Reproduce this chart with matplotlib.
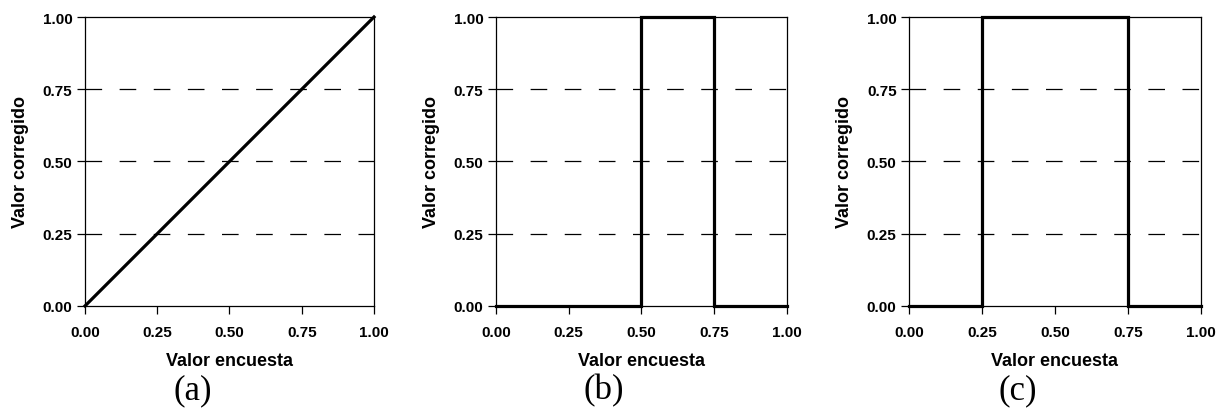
import numpy as np
import matplotlib.pyplot as plt

# survey value -> corrected value, one curve per panel
x_a = [0.0, 1.0]
y_a = [0.0, 1.0]
x_b = [0.0, 0.5, 0.5, 0.75, 0.75, 1.0]
y_b = [0.0, 0.0, 1.0, 1.0, 0.0, 0.0]
x_c = [0.0, 0.25, 0.25, 0.75, 0.75, 1.0]
y_c = [0.0, 0.0, 1.0, 1.0, 0.0, 0.0]
panels = ['(a)', '(b)', '(c)']
ticks = [0.0, 0.25, 0.5, 0.75, 1.0]
ref_levels = [0.25, 0.5, 0.75]


def main():
    plt.rcParams['font.family'] = ['Liberation Sans', 'DejaVu Sans']
    fig = plt.figure(figsize=(12.21, 4.14), dpi=100)
    lefts = [0.0696, 0.4062, 0.7445]
    widths = [0.2367, 0.2383, 0.239]
    curves = [(x_a, y_a), (x_b, y_b), (x_c, y_c)]
    for i in range(3):
        ax = fig.add_axes([lefts[i], 0.2585, widths[i], 0.698])
        for lev in ref_levels:
            ax.axhline(lev, color='black', lw=0.9, dashes=(13.3, 14.0))
        xs, ys = curves[i]
        ax.plot(xs, ys, color='black', lw=2.3, clip_on=False, zorder=3,
                solid_joinstyle='miter')
        ax.set_xlim(0, 1)
        ax.set_ylim(0, 1)
        ax.set_xticks(ticks)
        ax.set_yticks(ticks)
        ax.set_xticklabels(['%.2f' % t for t in ticks])
        ax.set_yticklabels(['%.2f' % t for t in ticks])
        ax.tick_params(direction='out', length=5.5, width=0.9, labelsize=11)
        ax.tick_params(axis='x', pad=8.5)
        ax.tick_params(axis='y', pad=3.5)
        for lab in ax.get_xticklabels() + ax.get_yticklabels():
            lab.set_fontweight('bold')
        for sp in ax.spines.values():
            sp.set_linewidth(0.9)
        ax.set_xlabel('Valor encuesta', fontsize=13, fontweight='bold',
                      labelpad=9)
        ax.set_ylabel('Valor corregido', fontsize=13, fontweight='bold',
                      labelpad=10)
        ax.text(0.372, -0.29, panels[i], transform=ax.transAxes,
                ha='center', va='center', fontsize=25,
                family='Liberation Serif')
    fig.savefig('out.png', dpi=100)


if __name__ == '__main__':
    main()
